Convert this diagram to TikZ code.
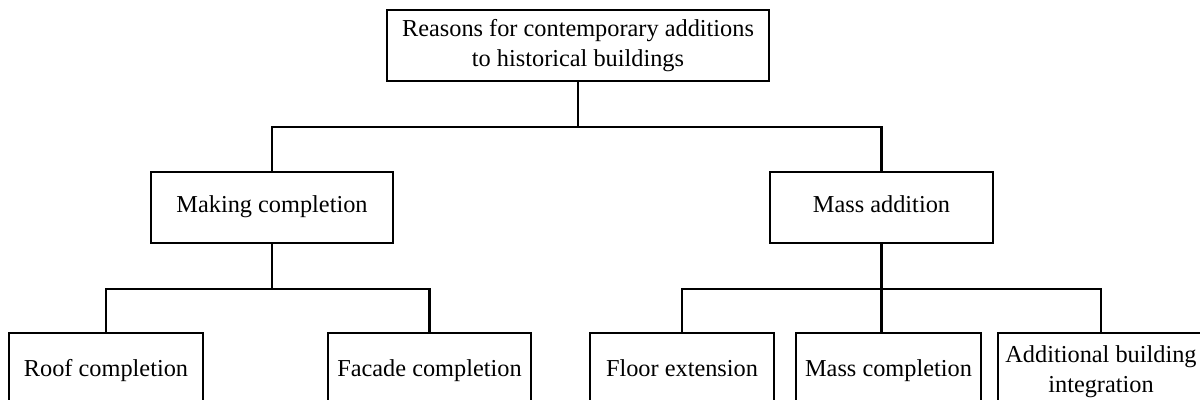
\documentclass[tikz,border=0pt]{standalone}
\usepackage{fontspec}
\setmainfont{Liberation Serif}
\usepackage{tikz}

\begin{document}
\begin{tikzpicture}[
    box/.style={draw, line width=1.6pt, inner sep=0pt, align=center,
      minimum height=1.775cm, font=\fontsize{17.3}{21.5}\selectfont},
    leaf/.style={box, minimum height=1.95cm},
    oneline/.style={text height=1.85ex, text depth=0.3ex},
    line width=1.6pt]
  \useasboundingbox (0,0) rectangle (30,10);
  \clip (0,0) rectangle (30,10);

  \node (rea) [box, minimum width=9.55cm] at (14.45,8.8625)
    {Reasons for contemporary additions\\to historical buildings};
  \node (mkc) [box, oneline, minimum width=6.05cm] at (6.8,4.8125) {Making completion};
  \node (mad) [box, oneline, minimum width=5.575cm] at (22.0375,4.8125) {Mass addition};

  \node (roc) [leaf, oneline, minimum width=4.85cm] at (2.65,0.7) {Roof completion};
  \node (fac) [leaf, oneline, minimum width=5.075cm] at (10.7375,0.7) {Facade completion};
  \node (flx) [leaf, oneline, minimum width=4.6cm] at (17.05,0.7) {Floor extension};
  \node (mac) [leaf, oneline, minimum width=4.625cm] at (22.2125,0.7) {Mass completion};
  \node (abi) [leaf, minimum width=5.15cm] at (27.525,0.7)
    {Additional building\\integration};

  \path (rea.south) ++(0,-1.125) coordinate (reaj);
  \draw (rea.south) -- (reaj);
  \draw (mkc.north) |- (reaj) -| (mad.north);

  \path (mkc.south) ++(0,-1.125) coordinate (mkcj);
  \draw (mkc.south) -- (mkcj);
  \draw (roc.north) |- (mkcj) -| (fac.north);

  \path (mad.south) ++(0,-1.125) coordinate (madj);
  \draw (mad.south) -- (mad.south |- mac.north);
  \draw (flx.north) |- (madj) -| (abi.north);
\end{tikzpicture}
\end{document}
